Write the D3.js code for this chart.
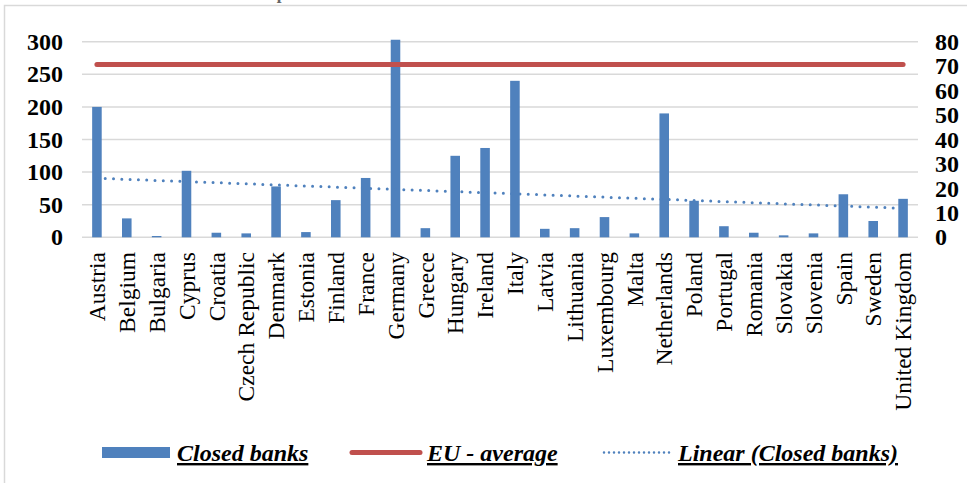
<!DOCTYPE html>
<html>
<head>
<meta charset="utf-8">
<script src="https://cdn.jsdelivr.net/npm/d3@7"></script>
<style>
  html,body{margin:0;padding:0;background:#fff;}
  svg{display:block;font-family:"Liberation Serif","Times New Roman",serif;}
</style>
</head>
<body>
<svg id="chart" width="967" height="483"></svg>
<script>
/* Closed banks per EU member state, with EU average and linear trend */

const COUNTRIES = ["Austria","Belgium","Bulgaria","Cyprus","Croatia","Czech Republic","Denmark",
  "Estonia","Finland","France","Germany","Greece","Hungary","Ireland","Italy","Latvia",
  "Lithuania","Luxembourg","Malta","Netherlands","Poland","Portugal","Romania","Slovakia",
  "Slovenia","Spain","Sweden","United Kingdom"];
const CLOSED_BANKS = [200,29,2,102,7,6,78,8,57,91,303,14,125,137,240,13,
  14,31,6,190,56,17,7,3,6,66,25,59];
const EU_AVERAGE = 70.7;               // plotted on the secondary axis
const LEFT_TICKS = [0,50,100,150,200,250,300];
const RIGHT_TICKS = [0,10,20,30,40,50,60,70,80];
const LEGEND = ["Closed banks","EU - average","Linear (Closed banks)"];
const TITLE = "Total number of closed banks in European Union member states in 2008-2017";

const C_BAR = "#4F81BD", C_AVG = "#C0504D", C_GRID = "#D9D9D9";

const svg = d3.select("#chart");

/* frame; the title is cropped at the top edge as in the source image */
svg.append("rect").attr("x",4.5).attr("y",5.5).attr("width",990).attr("height",500)
  .attr("fill","none").attr("stroke",C_GRID).attr("stroke-width",1.5);
svg.append("text").attr("x",4).attr("y",-1).attr("font-weight","bold").attr("font-size",17)
  .attr("fill","#666").text(TITLE);

/* scales */
const x = d3.scaleBand().domain(COUNTRIES).range([82,918]).paddingInner(0.68).paddingOuter(0.34);
const cx = c => x(c) + x.bandwidth()/2;
const yL = d3.scaleLinear().domain([0,300]).range([237.3,41.7]);
const yR = d3.scaleLinear().domain([0,80]).range([237.3,41.7]);

/* gridlines */
svg.append("g").selectAll("line").data(LEFT_TICKS).join("line")
  .attr("x1",82).attr("x2",918).attr("y1",d=>yL(d)).attr("y2",d=>yL(d))
  .attr("stroke",C_GRID).attr("stroke-width",1.5);

/* axes */
const axL = svg.append("g").attr("transform","translate(63,0)")
  .call(d3.axisLeft(yL).tickValues(LEFT_TICKS).tickSize(0).tickPadding(0));
const axR = svg.append("g").attr("transform","translate(935,0)")
  .call(d3.axisRight(yR).tickValues(RIGHT_TICKS).tickSize(0).tickPadding(0));
[axL,axR].forEach(a=>{
  a.select(".domain").remove();
  a.selectAll("text").attr("font-family","Liberation Serif").attr("font-weight","bold")
    .attr("font-size",24).attr("fill","#000");
});

/* bars */
svg.append("g").selectAll("rect").data(COUNTRIES).join("rect")
  .attr("x",d=>x(d)).attr("width",x.bandwidth())
  .attr("y",(d,i)=>yL(CLOSED_BANKS[i])).attr("height",(d,i)=>yL(0)-yL(CLOSED_BANKS[i]))
  .attr("fill",C_BAR);

/* category labels */
svg.append("g").selectAll("text").data(COUNTRIES).join("text")
  .attr("transform",d=>`translate(${cx(d)},252) rotate(-90)`)
  .attr("text-anchor","end").attr("dy","0.35em")
  .attr("font-size",23.5).attr("fill","#000").text(d=>d);

/* EU average */
svg.append("line")
  .attr("x1",cx(COUNTRIES[0])).attr("x2",cx(COUNTRIES[COUNTRIES.length-1]))
  .attr("y1",yR(EU_AVERAGE)).attr("y2",yR(EU_AVERAGE))
  .attr("stroke",C_AVG).attr("stroke-width",5).attr("stroke-linecap","round");

/* linear trend (least squares over the bars) */
const idx = d3.range(CLOSED_BANKS.length);
const mx = d3.mean(idx), my = d3.mean(CLOSED_BANKS);
const slope = d3.sum(idx,i=>(i-mx)*(CLOSED_BANKS[i]-my)) / d3.sum(idx,i=>(i-mx)*(i-mx));
const trend = i => my + slope*(i-mx);
svg.append("path")
  .attr("d", d3.line().x(i=>cx(COUNTRIES[i])).y(i=>yL(trend(i)))([0, COUNTRIES.length-1]))
  .attr("fill","none").attr("stroke",C_BAR).attr("stroke-width",3)
  .attr("stroke-linecap","round").attr("stroke-dasharray","0 8.3");

/* legend */
const lg = svg.append("g").attr("font-size",24).attr("font-weight","bold")
  .attr("font-style","italic").attr("fill","#000");
lg.append("rect").attr("x",102).attr("y",447).attr("width",68).attr("height",11).attr("fill",C_BAR);
lg.append("line").attr("x1",352).attr("x2",420).attr("y1",452.5).attr("y2",452.5)
  .attr("stroke",C_AVG).attr("stroke-width",5).attr("stroke-linecap","round");
lg.append("line").attr("x1",604).attr("x2",670).attr("y1",452.5).attr("y2",452.5)
  .attr("stroke",C_BAR).attr("stroke-width",2.5).attr("stroke-linecap","round")
  .attr("stroke-dasharray","0 5");
[[177,LEGEND[0]],[427,LEGEND[1]],[678,LEGEND[2]]].forEach(([lx,t])=>
  lg.append("text").attr("x",lx).attr("y",461).attr("text-decoration","underline").text(t));
</script>
</body>
</html>
